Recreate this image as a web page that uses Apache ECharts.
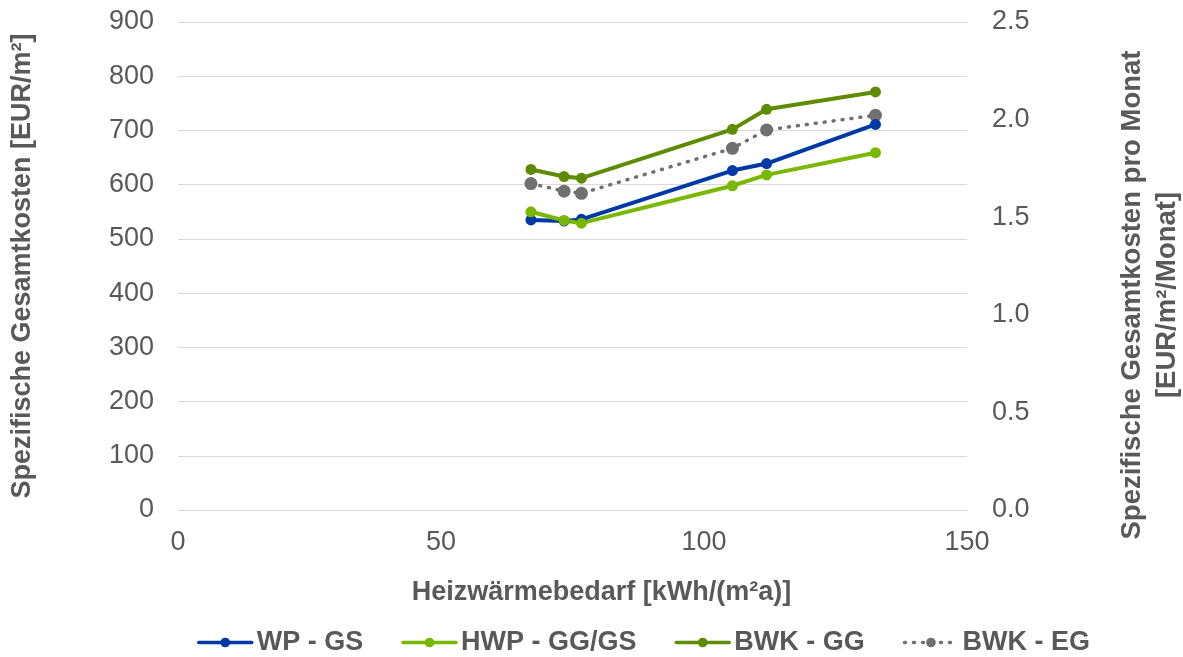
<!DOCTYPE html>
<html>
<head>
<meta charset="utf-8">
<script src="https://cdn.jsdelivr.net/npm/echarts@6/dist/echarts.min.js"></script>
<style>
  html, body { margin: 0; padding: 0; background: #fff; }
  #chart { width: 1183px; height: 657px; }
</style>
</head>
<body>
<div id="chart"></div>
<script>
// Heizwärmebedarf (kWh/(m²a)) of the variants
const heatDemand = [67.1, 73.4, 76.7, 105.4, 111.9, 132.6];

// Spezifische Gesamtkosten (EUR/m²) per system
const wpGS = [535, 533, 536, 626, 639, 711];
const hwpGGGS = [550, 534, 529, 598, 618, 659];
const bwkGG = [628, 615, 612, 702, 739, 771];
const bwkEG = [602, 588, 584, 667, 701, 728];

const seriesNames = ['WP - GS', 'HWP - GG/GS', 'BWK - GG', 'BWK - EG'];
const seriesColors = ['#0039A6', '#7AB800', '#5E8C00', '#707070'];

const textColor = '#595959';
const font = 'Liberation Sans, Arial, sans-serif';

function pairs(values) {
  return heatDemand.map((x, i) => [x, values[i]]);
}

function lineSeries(name, values, color, dotted) {
  return {
    name: name,
    type: 'line',
    data: pairs(values),
    symbol: 'circle',
    symbolSize: dotted ? 13 : 11,
    color: color,
    lineStyle: { color: color, width: dotted ? 3.5 : 4, type: dotted ? [1, 8] : 'solid', cap: 'round' },
    itemStyle: { color: color },
    emphasis: { disabled: true },
    z: dotted ? 2 : 3
  };
}

const chart = echarts.init(document.getElementById('chart'));
chart.setOption({
  animation: false,
  backgroundColor: '#ffffff',
  textStyle: { fontFamily: font },
  grid: { left: 178, right: 216, top: 22, bottom: 147, outerBoundsMode: 'none', containLabel: false },
  legend: {
    top: 624,
    left: 192,
    itemWidth: 53,
    itemHeight: 12,
    itemGap: 38,
    data: seriesNames,
    lineStyle: { width: 3.5 },
    textStyle: { color: textColor, fontSize: 27, fontWeight: 'bold', fontFamily: font }
  },
  xAxis: {
    type: 'value',
    min: 0,
    max: 150,
    interval: 50,
    name: 'Heizwärmebedarf [kWh/(m²a)]',
    nameLocation: 'middle',
    nameGap: 69,
    nameTextStyle: { color: textColor, fontSize: 27, fontWeight: 'bold', fontFamily: font, padding: [0, 0, 0, 58] },
    axisLine: { show: false },
    axisTick: { show: false },
    splitLine: { show: false },
    axisLabel: { color: textColor, fontSize: 27, margin: 19, fontFamily: font }
  },
  yAxis: [
    {
      type: 'value',
      min: 0,
      max: 900,
      interval: 100,
      name: 'Spezifische Gesamtkosten [EUR/m²]',
      nameLocation: 'middle',
      nameGap: 142,
      nameRotate: 90,
      nameTextStyle: { color: textColor, fontSize: 27, fontWeight: 'bold', fontFamily: font },
      axisLine: { show: false },
      axisTick: { show: false },
      splitLine: { lineStyle: { color: '#d9d9d9', width: 1 } },
      axisLabel: { color: textColor, fontSize: 27, margin: 24, fontFamily: font }
    },
    {
      type: 'value',
      position: 'right',
      min: 0,
      max: 2.5,
      interval: 0.5,
      name: 'Spezifische Gesamtkosten pro Monat\n[EUR/m²/Monat]',
      nameLocation: 'middle',
      nameGap: 148,
      nameRotate: 90,
      nameTextStyle: {
        color: textColor, fontSize: 27.5, fontWeight: 'bold', lineHeight: 35, fontFamily: font,
        padding: [0, 58, 0, 0]
      },
      axisLine: { show: false },
      axisTick: { show: false },
      splitLine: { show: false },
      axisLabel: {
        color: textColor, fontSize: 27, margin: 25, fontFamily: font,
        formatter: v => v.toFixed(1)
      }
    }
  ],
  series: [
    lineSeries(seriesNames[0], wpGS, seriesColors[0], false),
    lineSeries(seriesNames[1], hwpGGGS, seriesColors[1], false),
    lineSeries(seriesNames[2], bwkGG, seriesColors[2], false),
    lineSeries(seriesNames[3], bwkEG, seriesColors[3], true)
  ]
});
</script>
</body>
</html>
